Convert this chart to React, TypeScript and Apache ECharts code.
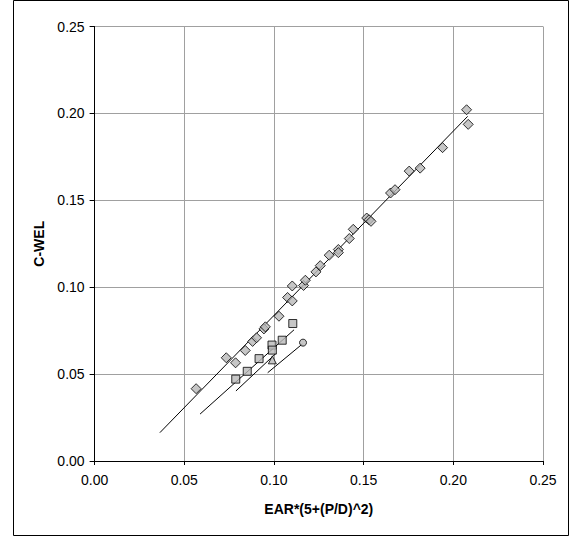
import React, { useEffect, useRef } from "react";
import * as echarts from "echarts";

const xTicks = ["0.00", "0.05", "0.10", "0.15", "0.20", "0.25"];

const diamondX = [0.0566, 0.0734, 0.0786, 0.0840, 0.0881, 0.0903, 0.0944, 0.0952, 0.1028, 0.1076, 0.1102, 0.1102, 0.1165, 0.1175, 0.1234, 0.1258, 0.1308, 0.1359, 0.1359, 0.1420, 0.1442, 0.1517, 0.1530, 0.1541, 0.1650, 0.1675, 0.1754, 0.1815, 0.1940, 0.2074, 0.2083];
const diamondY = [0.0416, 0.0594, 0.0565, 0.0636, 0.0688, 0.0709, 0.0760, 0.0772, 0.0833, 0.0941, 0.0921, 0.1007, 0.1010, 0.1040, 0.1088, 0.1124, 0.1184, 0.1217, 0.1199, 0.1280, 0.1333, 0.1398, 0.1388, 0.1379, 0.1542, 0.1561, 0.1668, 0.1685, 0.1803, 0.2021, 0.1937];

const squareX = [0.0787, 0.0851, 0.0917, 0.0989, 0.0991, 0.1046, 0.1105];
const squareY = [0.0471, 0.0516, 0.0589, 0.0667, 0.0638, 0.0695, 0.0791];

const triangleX = [0.0991];
const triangleY = [0.0582];

const circleX = [0.1162];
const circleY = [0.0681];

const diamondTrendX = [0.0364, 0.2080];
const diamondTrendY = [0.0163, 0.1983];
const squareTrendX = [0.0588, 0.1112];
const squareTrendY = [0.0270, 0.0755];
const triangleTrendX = [0.0788, 0.1011];
const triangleTrendY = [0.0403, 0.0619];
const circleTrendX = [0.0965, 0.1158];
const circleTrendY = [0.0508, 0.0673];

const xName = "EAR*(5+(P/D)^2)";
const yName = "C-WEL";

const zip = (xs: number[], ys: number[]) => xs.map((x, i) => [x, ys[i]]);

export default function App() {
  const ref = useRef<HTMLDivElement>(null);
  useEffect(() => {
    if (!ref.current) return;
    const chart = echarts.init(ref.current, null, { renderer: "svg" });
    const font = "'Liberation Sans', Arial, sans-serif";
    const markerStyle = { color: "#b8b8b8", borderColor: "#000", borderWidth: 1 };
    const lineSeries = (xs: number[], ys: number[]) => ({
      type: "line",
      data: zip(xs, ys),
      showSymbol: false,
      symbol: "none",
      lineStyle: { color: "#000", width: 1 },
      z: 3,
    });
    chart.setOption({
      animation: false,
      backgroundColor: "#fff",
      graphic: [
        {
          type: "rect",
          shape: { x: 13.5, y: 0.5, width: 555, height: 535 },
          style: { fill: "none", stroke: "#000", lineWidth: 1 },
          silent: true,
        },
      ],
      grid: { left: 94.6, top: 26.5, right: 27, bottom: 76, containLabel: false },
      xAxis: {
        type: "value",
        min: 0,
        max: 0.25,
        interval: 0.05,
        name: xName,
        nameLocation: "middle",
        nameGap: 41,
        nameTextStyle: { fontFamily: font, fontSize: 14, fontWeight: "bold", color: "#000" },
        axisLine: { show: true, lineStyle: { color: "#000", width: 1 } },
        axisTick: { show: true, length: 4, lineStyle: { color: "#000" } },
        axisLabel: {
          formatter: (v: number) => xTicks[Math.round(v / 0.05)] ?? v.toFixed(2),
          fontFamily: font,
          fontSize: 14,
          color: "#000",
          margin: 12,
        },
        splitLine: { show: true, lineStyle: { color: "#a0a0a0", width: 1 } },
      },
      yAxis: {
        type: "value",
        min: 0,
        max: 0.25,
        interval: 0.05,
        name: yName,
        nameLocation: "middle",
        nameGap: 47.5,
        nameRotate: 90,
        nameTextStyle: { fontFamily: font, fontSize: 14, fontWeight: "bold", color: "#000" },
        axisLine: { show: true, lineStyle: { color: "#000", width: 1 } },
        axisTick: { show: true, length: 5, lineStyle: { color: "#000" } },
        axisLabel: {
          formatter: (v: number) => xTicks[Math.round(v / 0.05)] ?? v.toFixed(2),
          fontFamily: font,
          fontSize: 14,
          color: "#000",
          margin: 10,
        },
        splitLine: { show: true, lineStyle: { color: "#a0a0a0", width: 1 } },
      },
      series: [
        lineSeries(diamondTrendX, diamondTrendY),
        lineSeries(squareTrendX, squareTrendY),
        lineSeries(triangleTrendX, triangleTrendY),
        lineSeries(circleTrendX, circleTrendY),
        { type: "scatter", data: zip(diamondX, diamondY), symbol: "diamond", symbolSize: [10, 10], itemStyle: markerStyle, z: 4 },
        { type: "scatter", data: zip(squareX, squareY), symbol: "rect", symbolSize: 8, itemStyle: markerStyle, z: 4 },
        { type: "scatter", data: zip(triangleX, triangleY), symbol: "triangle", symbolSize: 8, itemStyle: markerStyle, z: 4 },
        { type: "scatter", data: zip(circleX, circleY), symbol: "circle", symbolSize: 7, itemStyle: markerStyle, z: 4 },
      ],
    });
    return () => chart.dispose();
  }, []);
  return (
    <div
      ref={ref}
      style={{ position: "fixed", left: 0, top: 0, width: 570, height: 537 }}
    />
  );
}
